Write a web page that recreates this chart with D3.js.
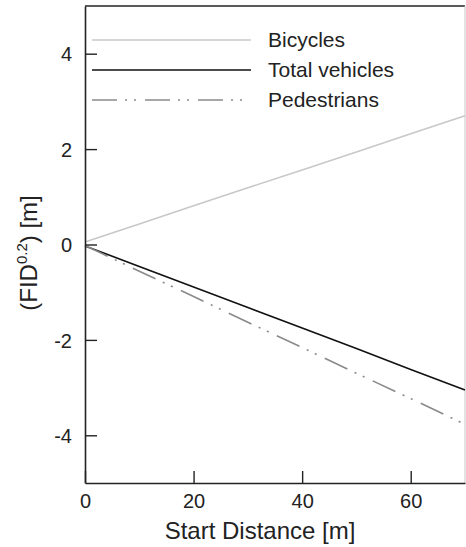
<!DOCTYPE html>
<html>
<head>
<meta charset="utf-8">
<script src="https://cdn.jsdelivr.net/npm/d3@7"></script>
<style>
  body { margin: 0; background: #fff; }
  text { font-family: "Liberation Sans", Arial, sans-serif; fill: #222; }
</style>
</head>
<body>
<script>
// values
var distance = [0, 10, 20, 30, 40, 50, 60, 70];
var bicycles = [0.05, 0.43, 0.81, 1.19, 1.56, 1.94, 2.32, 2.70];
var totalVehicles = [-0.03, -0.46, -0.89, -1.32, -1.75, -2.18, -2.62, -3.05];
var pedestrians = [-0.02, -0.56, -1.09, -1.63, -2.16, -2.70, -3.23, -3.77];
var seriesNames = ["Bicycles", "Total vehicles", "Pedestrians"];
var xTicks = [0, 20, 40, 60];
var yTicks = [-4, -2, 0, 2, 4];

var svg_width = 466, svg_height = 547;
var plotLeft = 85, plotRight = 465, plotTop = 6, plotBottom = 483;

var svg = d3.select("body").append("svg")
	.attr("width", svg_width)
	.attr("height", svg_height);

var x = d3.scaleLinear().domain([0, 70]).range([plotLeft, plotRight]);
var y = d3.scaleLinear().domain([-5, 5]).range([plotBottom, plotTop]);

var styles = [
	{color: "#c8c8c8", dash: null},
	{color: "#111", dash: null},
	{color: "#8a8a8a", dash: "25,8,2,7,2,9"}
];
var allSeries = [bicycles, totalVehicles, pedestrians];

// frame: top dark, right light
svg.append("line").attr("x1", plotLeft).attr("x2", plotRight).attr("y1", plotTop).attr("y2", plotTop)
	.attr("stroke", "#222").attr("stroke-width", 1.5);
svg.append("line").attr("x1", plotRight).attr("x2", plotRight).attr("y1", plotTop).attr("y2", plotBottom)
	.attr("stroke", "#c8c8c8").attr("stroke-width", 1);

var line = d3.line()
	.x(function(d, i) { return x(distance[i]); })
	.y(function(d) { return y(d); });

allSeries.forEach(function(s, k) {
	svg.append("path")
		.datum(s)
		.attr("d", line)
		.attr("fill", "none")
		.attr("stroke", styles[k].color)
		.attr("stroke-width", 1.6)
		.attr("stroke-dasharray", styles[k].dash);
});

// axes, ticks pointing inward; plain hyphen for negatives
var fmt = function(d) { return String(d); };
var xAxis = d3.axisBottom(x).tickValues(xTicks).tickFormat(fmt).tickSizeInner(-12).tickSizeOuter(0).tickPadding(11);
var yAxis = d3.axisLeft(y).tickValues(yTicks).tickFormat(fmt).tickSizeInner(-12).tickSizeOuter(0).tickPadding(13);

var gx = svg.append("g").attr("transform", "translate(0," + plotBottom + ")").call(xAxis);
var gy = svg.append("g").attr("transform", "translate(" + plotLeft + ",0)").call(yAxis);
[gx, gy].forEach(function(g) {
	g.select(".domain").attr("stroke", "#222").attr("stroke-width", 1.6);
	g.selectAll(".tick line").attr("stroke", "#222").attr("stroke-width", 1.4);
	g.selectAll(".tick text").style("font-size", "20px").attr("fill", "#222")
		.style("font-family", "'Liberation Sans', Arial, sans-serif");
});
gx.selectAll(".tick text").attr("dy", "0.71em");
gy.selectAll(".tick text").attr("dy", "0.36em");

// legend
var legend = svg.append("g");
seriesNames.forEach(function(name, k) {
	var ly = 40 + k * 30;
	legend.append("line")
		.attr("x1", 92).attr("x2", 251).attr("y1", ly).attr("y2", ly)
		.attr("stroke", styles[k].color)
		.attr("stroke-width", 1.6)
		.attr("stroke-dasharray", styles[k].dash);
	legend.append("text")
		.attr("x", 268).attr("y", ly + 7)
		.style("font-size", "21px")
		.text(name);
});

// axis labels
svg.append("text")
	.attr("x", 260).attr("y", 539)
	.attr("text-anchor", "middle")
	.style("font-size", "24px")
	.text("Start Distance [m]");

var ylab = svg.append("text")
	.attr("transform", "translate(37,253) rotate(-90)")
	.attr("text-anchor", "middle")
	.style("font-size", "24px");
ylab.append("tspan").text("(FID");
ylab.append("tspan").attr("dy", -10).style("font-size", "15px").text("0.2");
ylab.append("tspan").attr("dy", 10).text(") [m]");
</script>
</body>
</html>
